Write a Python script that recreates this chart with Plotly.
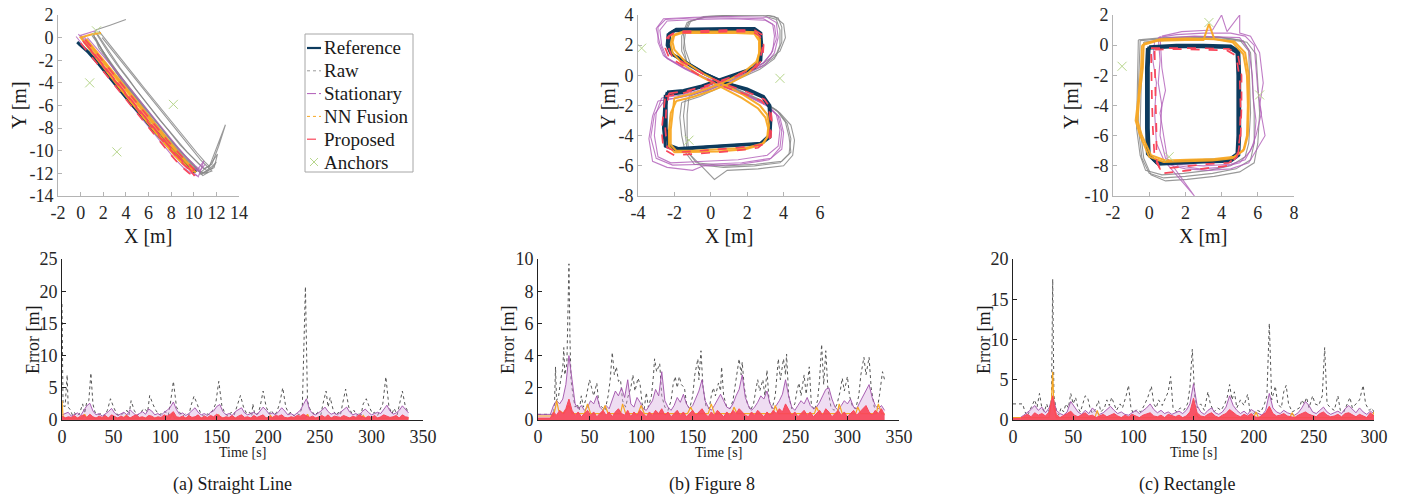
import plotly.graph_objects as go
import numpy as np

# ------------------------------------------------------------------ data
# (a) Straight line trajectories  (laps: (x list, y list))
REF_A = [([-0.3, 0.6, 1.4, 2.2, 3.0, 3.8, 4.6, 5.5, 6.3, 7.2, 8.1, 9.2, 10.2, 9.3, 8.2, 7.3, 6.4, 5.6, 4.7, 3.9, 3.1, 2.3, 1.5, 0.7, -0.2, 0.7, 1.5, 2.3, 3.1, 3.9, 4.7, 5.6, 6.4, 7.3, 8.2, 9.3, 10.1],
          [-0.4, -1.2, -2.1, -3.1, -4.0, -5.0, -6.0, -7.0, -8.0, -9.0, -10.0, -11.0, -11.9, -11.1, -10.1, -9.1, -8.1, -7.1, -6.1, -5.1, -4.1, -3.1, -2.2, -1.3, -0.5, -1.3, -2.2, -3.2, -4.1, -5.1, -6.1, -7.0, -8.0, -9.0, -10.0, -11.0, -11.9])]
RAW_A = [([1.3, 1.9, 2.5, 3.2, 3.9, 4.7, 5.5, 6.2, 7.0, 7.8, 8.6, 9.4, 10.2, 10.9, 11.6, 12.2, 12.8, 11.9, 11.3, 10.7],
          [0.5, -0.5, -1.4, -2.4, -3.3, -4.3, -5.3, -6.3, -7.3, -8.2, -9.2, -10.1, -10.9, -11.6, -11.2, -9.6, -7.7, -10.1, -11.6, -12.1]),
         ([10.7, 10.0, 9.2, 8.4, 7.6, 6.8, 6.0, 5.2, 4.4, 3.6, 2.9, 2.2, 1.6, 1.1, 1.4, 2.6, 4.0],
          [-12.1, -11.2, -10.4, -9.5, -8.6, -7.6, -6.6, -5.7, -4.7, -3.7, -2.7, -1.6, -0.6, 0.3, 0.7, 1.1, 1.6]),
         ([1.5, 2.1, 2.8, 3.5, 4.2, 4.9, 5.7, 6.5, 7.3, 8.0, 8.8, 9.7, 10.5, 11.2, 11.8, 12.1, 11.4, 10.6, 9.8, 9.0, 8.2, 7.4, 6.6, 5.8, 5.0, 4.2, 3.4, 2.6, 1.9, 1.3],
          [0.3, -0.6, -1.7, -2.7, -3.6, -4.6, -5.6, -6.6, -7.6, -8.5, -9.5, -10.4, -11.2, -11.8, -11.5, -10.3, -11.3, -11.9, -11.1, -10.2, -9.3, -8.3, -7.3, -6.3, -5.3, -4.3, -3.3, -2.2, -1.1, 0.0]),
         ([1.0, 1.7, 2.3, 3.0, 3.8, 4.5, 5.3, 6.0, 6.8, 7.6, 8.4, 9.1, 9.9, 10.6, 11.3, 10.8, 10.1, 9.3, 8.5, 7.7, 6.9, 6.1, 5.3, 4.5, 3.7, 3.0, 2.3, 1.6, 1.1],
          [0.2, -0.8, -1.8, -2.8, -3.8, -4.8, -5.8, -6.8, -7.8, -8.8, -9.7, -10.6, -11.3, -11.9, -11.9, -12.2, -11.5, -10.7, -9.8, -8.9, -7.9, -6.9, -5.9, -4.9, -3.9, -2.9, -1.9, -0.9, 0.4]),
         ([1.9, 2.7, 3.5, 4.3, 5.1, 5.9, 6.7, 7.5, 8.3, 9.1, 9.9, 10.6, 11.2, 11.6, 11.0, 10.4, 9.6, 8.8, 8.0, 7.2, 6.4, 5.6, 4.8, 4.0, 3.3, 2.6, 1.9],
          [0.0, -1.0, -2.0, -3.0, -4.0, -5.0, -6.0, -7.0, -8.0, -9.0, -10.0, -10.8, -11.4, -11.8, -12.0, -11.8, -10.9, -10.0, -9.1, -8.1, -7.1, -6.1, -5.1, -4.1, -3.1, -2.1, -1.1]),
         ([1.6, 2.3, 3.1, 3.9, 4.7, 5.5, 6.3, 7.1, 7.9, 8.7, 9.5, 10.3, 11.0, 11.6, 12.0, 11.2, 10.5],
          [0.6, -0.3, -1.3, -2.3, -3.3, -4.3, -5.3, -6.3, -7.3, -8.3, -9.3, -10.2, -11.0, -11.6, -11.0, -11.8, -12.1])]
STA_A = [([-0.2, 0.5, 1.2, 2.0, 2.8, 3.6, 4.4, 5.2, 6.0, 6.8, 7.6, 8.4, 9.2, 9.9, 10.4, 10.9, 10.3, 9.6, 8.8, 8.0, 7.2, 6.4, 5.6, 4.8, 4.0, 3.2, 2.4, 1.6, 0.8, 0.0, 1.3],
          [0.3, -0.5, -1.5, -2.5, -3.5, -4.6, -5.6, -6.6, -7.6, -8.6, -9.6, -10.5, -11.3, -11.9, -12.3, -10.9, -11.7, -11.4, -10.5, -9.6, -8.6, -7.6, -6.6, -5.6, -4.6, -3.6, -2.6, -1.6, -0.6, 0.2, 0.6]),
         ([0.1, 0.9, 1.7, 2.5, 3.3, 4.1, 4.9, 5.7, 6.6, 7.4, 8.2, 9.0, 9.8, 10.5, 9.9, 9.1, 8.3, 7.5, 6.7, 5.9, 5.1, 4.3, 3.5, 2.7, 1.9, 1.1, 0.3],
          [-0.1, -1.0, -2.0, -3.1, -4.1, -5.1, -6.1, -7.2, -8.2, -9.2, -10.1, -11.0, -11.7, -11.8, -11.5, -10.7, -9.8, -8.8, -7.8, -6.8, -5.8, -4.8, -3.8, -2.8, -1.8, -0.8, 0.1]),
         ([-0.4, 0.3, 1.1, 1.9, 2.7, 3.5, 4.3, 5.1, 5.9, 6.7, 7.5, 8.3, 9.1, 9.8, 10.3],
          [0.1, -0.8, -1.8, -2.8, -3.8, -4.8, -5.8, -6.8, -7.8, -8.8, -9.8, -10.7, -11.5, -12.0, -12.2]),
         ([0.6, 1.4, 2.2, 3.0, 3.8, 4.6, 5.4, 6.2, 7.0, 7.8, 8.6, 9.4, 10.1, 10.6, 11.0],
          [0.0, -0.9, -1.8, -2.8, -3.8, -4.8, -5.8, -6.8, -7.8, -8.8, -9.7, -10.6, -11.3, -11.7, -11.2])]
NN_A = [([0.1, 0.8, 1.6, 2.4, 3.2, 4.0, 4.8, 5.6, 6.4, 7.2, 8.0, 8.8, 9.6, 10.2, 9.5, 8.7, 7.9, 7.1, 6.3, 5.5, 4.7, 3.9, 3.1, 2.3, 1.5, 0.7, 0.0, 1.0, 1.8],
         [-0.1, -1.0, -2.0, -3.0, -4.1, -5.1, -6.1, -7.1, -8.1, -9.1, -10.0, -10.9, -11.6, -11.9, -11.5, -10.6, -9.7, -8.8, -7.8, -6.8, -5.8, -4.8, -3.8, -2.8, -1.8, -0.8, 0.0, 0.3, 0.4]),
        ([0.3, 1.1, 1.9, 2.7, 3.4, 4.3, 5.1, 5.9, 6.7, 7.5, 8.3, 9.1, 9.9, 10.0, 9.2, 8.4, 7.6, 6.8, 6.0, 5.2, 4.4, 3.6, 2.8, 2.0, 1.2, 0.4],
         [-0.4, -1.4, -2.4, -3.5, -4.4, -5.5, -6.5, -7.5, -8.5, -9.5, -10.4, -11.2, -11.8, -11.7, -10.9, -10.0, -9.1, -8.1, -7.1, -6.1, -5.1, -4.1, -3.1, -2.1, -1.1, -0.2]),
        ([0.5, 1.3, 2.1, 2.9, 3.7, 4.5, 5.3, 6.1, 6.9, 7.7, 8.5, 9.3, 10.0],
         [-0.1, -1.1, -2.1, -3.1, -4.1, -5.1, -6.1, -7.1, -8.1, -9.1, -10.0, -10.9, -11.6])]
PRO_A = [([0.2, 1.0, 1.8, 2.6, 3.4, 4.2, 5.0, 5.8, 6.6, 7.4, 8.2, 9.0, 9.7, 10.2, 9.6, 8.8, 8.0, 7.2, 6.4, 5.6, 4.8, 4.0, 3.2, 2.4, 1.6, 0.8, 0.1],
          [-0.3, -1.2, -2.2, -3.2, -4.2, -5.2, -6.2, -7.2, -8.2, -9.2, -10.1, -11.0, -11.7, -12.4, -11.6, -10.7, -9.8, -8.9, -7.9, -6.9, -5.9, -4.9, -3.9, -2.9, -1.9, -0.9, -0.1]),
         ([0.4, 1.2, 2.0, 2.8, 3.6, 4.4, 5.2, 6.0, 6.8, 7.6, 8.4, 9.2, 10.0, 9.9, 9.0, 8.2, 7.4, 6.6, 5.8, 5.0, 4.2, 3.4, 2.6, 1.8, 1.0, 0.3],
          [-0.2, -1.1, -2.1, -3.1, -4.1, -5.0, -6.0, -7.0, -8.0, -9.0, -9.9, -10.8, -11.6, -12.0, -11.1, -10.2, -9.3, -8.3, -7.3, -6.3, -5.3, -4.3, -3.3, -2.3, -1.3, -0.4]),
         ([0.0, 0.8, 1.6, 2.4, 3.2, 4.0, 4.8, 5.6, 6.4, 7.2, 8.0, 8.8, 9.6, 10.3],
          [-0.5, -1.5, -2.5, -3.5, -4.5, -5.5, -6.5, -7.5, -8.5, -9.5, -10.4, -11.3, -12.0, -12.3])]
ANC_A_X = [0.8, 8.2, 3.2, 1.4]
ANC_A_Y = [-4.0, -5.9, -10.1, 0.6]

# (b) Figure 8 trajectories
REF_B = [([-2.4, -1.5, -0.5, 0.5, 1.5, 2.4, 2.75, 2.8, 2.75, 2.4, 1.0, -0.5, -1.9, -2.25, -2.3, -2.1, -1.3, -0.3, 0.8, 2.0, 2.9, 3.25, 3.3, 3.25, 2.8, 1.5, 0.0, -1.8, -2.35, -2.45, -2.45, -2.4],
          [-1.1, -1.0, -0.7, -0.3, 0.1, 0.5, 1.0, 2.0, 2.8, 3.1, 3.1, 3.05, 3.05, 2.8, 2.0, 1.4, 0.8, 0.1, -0.5, -0.9, -1.4, -2.0, -3.0, -4.1, -4.5, -4.6, -4.7, -4.85, -4.6, -3.5, -2.0, -1.1]),
         ([-2.5, -1.6, -0.6, 0.4, 1.4, 2.3, 2.7, 2.75, 2.7, 2.3, 0.9, -0.6, -2.0, -2.35, -2.4, -2.2, -1.4, -0.4, 0.7, 1.9, 2.85, 3.2, 3.25, 3.2, 2.7, 1.4, -0.1, -1.9, -2.5, -2.6, -2.55, -2.5],
          [-1.3, -1.15, -0.8, -0.35, 0.05, 0.45, 1.0, 2.0, 2.75, 3.0, 3.0, 2.95, 2.95, 2.7, 2.0, 1.45, 0.85, 0.15, -0.45, -0.95, -1.45, -2.1, -3.0, -4.0, -4.55, -4.65, -4.75, -4.95, -4.7, -3.5, -2.2, -1.3])]
RAW_B = [([-1.4, -0.5, 0.6, 1.7, 2.8, 3.6, 3.9, 3.9, 3.7, 3.0, 1.5, -0.2, -1.1, -1.4, -1.5, -1.3, -0.5, 0.5, 1.6, 2.7, 3.6, 4.1, 4.3, 4.4, 3.9, 2.5, 0.8, -0.8, -1.3, -1.4, -1.5, -1.4],
          [-1.6, -1.2, -0.6, 0.0, 0.6, 1.3, 2.2, 3.2, 3.8, 4.0, 4.0, 3.9, 3.6, 2.8, 1.8, 0.8, 0.2, -0.4, -1.0, -1.6, -2.3, -3.1, -4.1, -5.1, -5.7, -5.9, -6.0, -5.8, -5.0, -3.9, -2.7, -1.6]),
         ([-1.2, -0.3, 0.8, 1.9, 3.0, 3.8, 4.1, 4.0, 3.5, 2.8, 1.3, -0.4, -1.3, -1.6, -1.6, -1.2, -0.3, 0.7, 1.8, 2.9, 3.8, 4.4, 4.6, 4.5, 4.0, 2.6, 0.9, 0.2, -0.6, -1.2, -1.3, -1.3, -1.2],
          [-1.4, -1.0, -0.4, 0.2, 0.9, 1.6, 2.5, 3.4, 3.9, 4.05, 4.0, 3.9, 3.5, 2.6, 1.6, 0.6, 0.0, -0.6, -1.2, -1.8, -2.5, -3.3, -4.3, -5.3, -6.0, -6.2, -6.3, -6.9, -5.9, -5.2, -4.0, -2.6, -1.4]),
         ([-1.6, -0.6, 0.5, 1.6, 2.7, 3.5, 3.8, 3.8, 3.6, 2.9, 1.4, -0.3, -1.2, -1.5, -1.4, -1.1, -0.4, 0.6, 1.7, 2.8, 3.7, 4.2, 4.4, 4.3, 3.8, 2.4, 0.7, -0.9, -1.4, -1.6, -1.7, -1.6],
          [-1.8, -1.4, -0.8, -0.2, 0.4, 1.1, 2.0, 3.0, 3.7, 3.95, 3.95, 3.85, 3.55, 2.7, 1.7, 0.7, 0.1, -0.5, -1.1, -1.7, -2.4, -3.2, -4.2, -5.2, -5.8, -6.0, -6.1, -5.9, -5.1, -4.0, -2.8, -1.8])]
STA_B = [([-2.7, -1.6, -0.4, 0.7, 1.8, 2.9, 3.4, 3.5, 3.4, 2.9, 1.0, -1.0, -2.5, -2.9, -2.9, -2.6, -1.6, -0.4, 0.8, 2.0, 3.0, 3.6, 3.8, 3.7, 3.1, 1.5, -0.3, -2.2, -2.9, -3.1, -3.0, -2.7],
          [-1.5, -1.3, -0.9, -0.4, 0.2, 0.8, 1.6, 2.6, 3.4, 3.75, 3.8, 3.8, 3.7, 3.2, 2.2, 1.3, 0.6, -0.1, -0.7, -1.3, -1.9, -2.6, -3.6, -4.7, -5.3, -5.6, -5.7, -5.8, -5.4, -4.0, -2.5, -1.5]),
         ([-2.9, -1.8, -0.6, 0.5, 1.6, 2.7, 3.3, 3.6, 3.5, 3.0, 1.2, -0.8, -2.4, -2.8, -2.7, -2.4, -1.4, -0.2, 1.0, 2.2, 3.2, 3.8, 4.0, 3.9, 3.2, 1.6, -0.4, -1.0, -2.4, -3.2, -3.4, -3.2, -2.9],
          [-1.7, -1.5, -1.1, -0.6, 0.0, 0.6, 1.4, 2.4, 3.3, 3.65, 3.75, 3.7, 3.6, 3.0, 2.0, 1.1, 0.4, -0.3, -0.9, -1.5, -2.1, -2.8, -3.8, -4.9, -5.6, -5.9, -6.0, -6.3, -6.1, -5.7, -4.2, -2.7, -1.7]),
         ([-2.5, -1.4, -0.2, 0.9, 2.0, 3.0, 3.5, 3.7, 3.6, 3.1, 1.1, -0.9, -2.6, -3.0, -2.8, -2.5, -1.5, -0.3, 0.9, 2.1, 3.1, 3.7, 3.9, 3.8, 3.3, 1.7, -0.2, -2.1, -3.0, -3.3, -3.1, -2.5],
          [-1.6, -1.4, -1.0, -0.5, 0.1, 0.7, 1.5, 2.5, 3.5, 3.85, 3.9, 3.85, 3.75, 3.1, 2.1, 1.2, 0.5, -0.2, -0.8, -1.4, -2.0, -2.7, -3.7, -4.8, -5.5, -5.8, -5.9, -5.95, -5.5, -4.1, -2.6, -1.6])]
NN_B = [([-2.0, -1.0, 0.0, 1.0, 1.9, 2.5, 2.7, 2.7, 2.5, 1.5, 0.0, -1.5, -2.0, -2.1, -2.0, -1.4, -0.4, 0.7, 1.8, 2.7, 3.1, 3.2, 3.15, 2.9, 2.0, 0.5, -1.0, -1.9, -2.2, -2.2, -2.1, -2.0],
         [-1.5, -1.2, -0.8, -0.3, 0.3, 0.9, 1.6, 2.4, 2.85, 2.9, 2.9, 2.9, 2.7, 2.2, 1.7, 0.9, 0.1, -0.6, -1.3, -2.0, -2.6, -3.3, -4.0, -4.5, -4.8, -4.9, -5.0, -5.0, -4.6, -3.6, -2.4, -1.5]),
        ([-1.9, -0.9, 0.1, 1.1, 2.0, 2.55, 2.65, 2.65, 2.4, 1.4, -0.1, -1.6, -2.1, -2.2, -2.1, -1.5, -0.5, 0.6, 1.7, 2.6, 3.0, 3.15, 3.1, 2.8, 1.9, 0.4, -1.1, -2.0, -2.3, -2.3, -2.2, -1.9],
         [-1.7, -1.4, -1.0, -0.5, 0.1, 0.7, 1.5, 2.3, 2.75, 2.8, 2.8, 2.8, 2.6, 2.1, 1.5, 0.7, -0.1, -0.8, -1.5, -2.2, -2.8, -3.5, -4.1, -4.6, -4.9, -5.05, -5.1, -5.1, -4.7, -3.7, -2.5, -1.7])]
PRO_B = [([-2.3, -1.4, -0.4, 0.6, 1.6, 2.5, 2.85, 2.9, 2.8, 2.4, 1.0, -0.5, -1.9, -2.3, -2.35, -2.15, -1.3, -0.3, 0.8, 2.0, 2.95, 3.3, 3.35, 3.3, 2.8, 1.5, 0.0, -1.8, -2.4, -2.5, -2.45, -2.3],
          [-1.2, -1.05, -0.75, -0.35, 0.1, 0.55, 1.1, 2.0, 2.7, 3.0, 3.0, 2.95, 2.9, 2.6, 1.9, 1.3, 0.7, 0.0, -0.6, -1.1, -1.6, -2.2, -3.1, -4.1, -4.6, -4.8, -4.95, -5.1, -4.8, -3.6, -2.2, -1.2]),
         ([-2.5, -1.6, -0.6, 0.4, 1.4, 2.3, 2.7, 2.85, 2.7, 2.3, 0.9, -0.6, -2.0, -2.4, -2.5, -2.3, -1.5, -0.5, 0.6, 1.8, 2.8, 3.2, 3.3, 3.2, 2.6, 1.3, -0.2, -2.0, -2.6, -2.7, -2.6, -2.5],
          [-1.4, -1.2, -0.9, -0.5, -0.05, 0.4, 1.0, 1.9, 2.6, 2.9, 2.9, 2.85, 2.8, 2.5, 1.8, 1.2, 0.6, -0.1, -0.7, -1.2, -1.7, -2.3, -3.2, -4.2, -4.8, -5.0, -5.15, -5.3, -4.9, -3.7, -2.4, -1.4])]
ANC_B_X = [-3.8, 3.8, -1.2]
ANC_B_Y = [1.8, -0.2, -4.3]

# (c) Rectangle trajectories
REF_C = [([0.0, 1.5, 3.0, 4.5, 4.95, 5.0, 5.0, 5.0, 4.95, 4.5, 3.0, 1.5, 0.5, 0.0, -0.05, -0.05, -0.05, 0.0],
          [-0.1, 0.0, 0.0, -0.05, -0.4, -2.0, -4.0, -6.0, -7.3, -7.7, -7.75, -7.85, -7.9, -7.3, -5.5, -3.5, -1.5, -0.1]),
         ([-0.1, 1.4, 2.9, 4.4, 4.85, 4.9, 4.9, 4.9, 4.85, 4.4, 2.9, 1.4, 0.4, -0.1, -0.15, -0.15, -0.15, -0.1],
          [-0.2, -0.1, -0.1, -0.15, -0.5, -2.0, -4.0, -6.0, -7.2, -7.6, -7.65, -7.75, -7.8, -7.2, -5.5, -3.5, -1.5, -0.2])]
RAW_C = [([-0.5, 1.0, 2.5, 4.0, 5.2, 5.6, 5.7, 5.8, 5.8, 5.6, 4.8, 3.5, 2.0, 0.8, 0.0, -0.4, -0.6, -0.6, -0.5],
          [0.3, 0.45, 0.5, 0.5, 0.3, -0.5, -2.5, -4.5, -6.5, -7.6, -8.2, -8.5, -8.7, -8.8, -8.5, -7.5, -5.5, -3.0, 0.3]),
         ([-0.3, 1.2, 2.7, 4.2, 5.4, 5.9, 6.0, 6.1, 6.0, 5.8, 5.0, 3.6, 2.1, 0.9, 0.1, -0.3, -0.5, -0.45, -0.3],
          [0.2, 0.35, 0.4, 0.4, 0.2, -0.6, -2.5, -4.5, -6.5, -7.8, -8.4, -8.7, -8.9, -9.0, -8.6, -7.5, -5.5, -3.0, 0.2]),
         ([-0.6, 0.8, 2.3, 3.8, 5.0, 5.5, 5.55, 5.6, 5.5, 5.3, 4.5, 3.3, 1.9, 0.7, -0.2, -0.5, -0.7, -0.65, -0.6],
          [0.35, 0.5, 0.55, 0.55, 0.35, -0.4, -2.5, -4.5, -6.5, -7.4, -8.0, -8.3, -8.5, -8.6, -8.3, -7.3, -5.5, -3.0, 0.35])]
STA_C = [([0.5, 1.5, 3.0, 4.5, 5.3, 5.8, 5.9, 6.0, 6.2, 5.9, 5.6, 5.0, 4.0, 2.8, 1.6, 0.9, 0.6, 0.7, 0.5, 0.6, 0.5],
          [0.5, 0.7, 0.8, 0.8, 0.6, 0.0, -1.5, -3.0, -4.5, -6.0, -7.0, -7.8, -8.1, -8.2, -8.0, -7.5, -6.0, -4.0, -2.5, -1.0, 0.5]),
         ([0.7, 1.8, 3.5, 4.0, 4.3, 5.0, 5.0, 5.6, 6.1, 6.3, 6.1, 6.4, 6.0, 5.5, 4.5, 3.3, 2.0, 1.0, 1.5, 2.0, 2.5, 1.0, 0.8, 0.6, 0.9, 0.7, 0.6],
          [0.6, 0.9, 1.0, 2.0, 0.9, 2.0, 0.8, 0.6, -0.5, -2.5, -4.0, -6.0, -6.8, -7.8, -8.2, -8.3, -8.2, -7.9, -8.6, -9.3, -10.0, -7.5, -6.0, -4.5, -3.0, -1.5, 0.6]),
         ([0.3, 1.2, 2.5, 3.8, 5.0, 5.5, 5.7, 5.75, 5.9, 5.8, 5.3, 4.5, 3.0, 1.5, 0.8, 0.4, 0.3, 0.4, 0.2, 0.3],
          [0.3, 0.5, 0.6, 0.55, 0.5, -0.3, -2.0, -3.5, -5.0, -6.5, -7.6, -7.9, -8.0, -7.9, -7.6, -6.5, -4.5, -2.5, -1.0, 0.3])]
NN_C = [([-0.4, 0.5, 2.0, 3.0, 3.3, 3.6, 4.6, 5.2, 5.4, 5.45, 5.4, 5.2, 4.6, 3.5, 2.0, 0.8, 0.0, -0.5, -0.75, -0.6, -0.45, -0.4],
         [0.0, 0.3, 0.35, 0.35, 1.4, 0.4, 0.2, -0.6, -2.0, -4.0, -6.0, -7.0, -7.5, -7.65, -7.7, -7.75, -7.4, -6.0, -5.0, -3.5, -1.5, 0.0]),
        ([-0.3, 0.6, 2.1, 3.6, 4.7, 5.3, 5.5, 5.5, 5.45, 5.25, 4.7, 3.6, 2.1, 0.9, 0.1, -0.4, -0.65, -0.55, -0.35, -0.3],
         [0.1, 0.4, 0.45, 0.4, 0.25, -0.5, -2.0, -4.0, -6.0, -6.9, -7.4, -7.55, -7.6, -7.65, -7.3, -6.0, -5.0, -3.5, -1.5, 0.1])]
PRO_C = [([0.1, 1.5, 3.0, 4.4, 4.9, 5.1, 5.1, 5.05, 4.9, 4.4, 3.0, 1.5, 0.6, 0.3, 0.2, 0.15, 0.1, 0.1],
          [-0.2, -0.2, -0.2, -0.25, -0.6, -2.0, -4.0, -6.0, -7.3, -7.8, -7.9, -8.1, -8.2, -7.5, -5.5, -3.5, -1.5, -0.2]),
         ([0.3, 1.6, 3.1, 4.3, 4.8, 5.0, 5.05, 5.0, 4.85, 4.3, 2.9, 1.4, 0.7, 0.4, 0.4, 0.35, 0.3, 0.3],
          [-0.3, -0.25, -0.3, -0.35, -0.7, -2.2, -4.2, -6.2, -7.4, -8.0, -8.2, -8.4, -8.5, -7.6, -5.6, -3.6, -1.6, -0.3])]
ANC_C_X = [-1.5, 6.1, 1.1, 3.3]
ANC_C_Y = [-1.4, -3.3, -7.4, 1.5]

# Error time series ---------------------------------------------------
DT = 3  # sampling step [s] of the evenly sampled error series
RAW_ERR_A = [(0,18.0),(1,2.2),(3,2.1),(5,7.0),(6,2.0),(8,1.6),(10,0.8),(12,1.2),(14,0.6),(17,1.0),(20,2.5),(22,1.0),(24,2.8),(26,3.0),(28,7.3),(30,2.5),(32,1.2),(35,0.8),(38,1.0),(41,0.6),(44,1.5),(47,3.3),(50,2.0),(53,1.0),(56,0.6),(60,1.2),(63,1.5),(65,0.8),(67,3.0),(70,1.5),(73,0.7),(76,1.2),(80,1.8),(83,1.2),(85,3.8),(88,2.5),(91,1.5),(94,0.8),(97,1.0),(100,1.3),(103,0.7),(105,2.5),(108,6.0),(111,2.0),(114,1.2),(117,0.6),(120,1.0),(123,0.7),(125,2.2),(128,3.7),(131,2.5),(134,1.2),(137,0.6),(140,1.0),(143,0.8),(146,1.5),(149,2.5),(152,6.0),(155,2.2),(158,1.0),(161,0.6),(164,1.2),(167,0.8),(170,2.5),(173,3.8),(176,2.0),(179,1.0),(182,1.2),(184,0.6),(185,2.5),(187,0.8),(190,1.0),(192,2.0),(195,4.5),(198,2.0),(201,1.0),(203,1.5),(206,0.7),(208,1.2),(211,2.5),(214,5.0),(217,2.0),(220,1.0),(222,1.2),(225,0.6),(228,1.0),(230,0.8),(233,2.0),(236,20.7),(238,3.0),(240,1.8),(242,1.5),(245,0.7),(248,1.2),(251,0.8),(253,2.5),(256,4.5),(258,2.0),(260,3.5),(263,1.5),(266,0.7),(268,1.2),(270,0.8),(272,2.5),(275,4.8),(278,2.0),(281,1.0),(283,1.5),(286,0.7),(288,1.2),(290,0.8),(292,2.5),(295,3.3),(298,2.0),(301,1.0),(303,1.2),(306,0.7),(308,1.5),(311,2.5),(314,6.7),(317,2.0),(320,1.0),(322,1.8),(325,0.8),(327,2.5),(330,4.5),(333,2.0),(336,1.2)]
STA_ERR_A = [0.8, 1.0, 1.2, 0.6, 0.9, 1.1, 0.7, 1.5, 2.2, 2.6,
             1.4, 0.8, 1.0, 0.6, 0.9, 1.3, 1.8, 1.1, 0.7, 0.9,
             1.2, 0.8, 1.6, 1.1, 0.7, 1.0, 1.3, 0.9, 1.7, 1.4,
             0.8, 1.0, 0.7, 1.2, 1.5, 2.0, 2.8, 1.6, 0.9, 1.1,
             0.7, 1.0, 1.5, 1.9, 1.2, 0.8, 1.0, 0.7, 1.2, 1.4,
             2.1, 2.4, 1.3, 0.8, 1.0, 0.7, 1.3, 1.6, 1.9, 1.1,
             0.8, 1.0, 1.2, 0.8, 1.4, 2.0, 1.5, 0.9, 1.1, 0.8,
             1.3, 1.9, 1.4, 0.8, 1.0, 0.7, 1.1, 1.5, 2.4, 3.3,
             1.6, 1.0, 0.8, 1.1, 1.5, 2.0, 1.3, 0.9, 1.1, 0.8,
             1.2, 1.6, 2.0, 1.2, 0.8, 1.0, 0.7, 1.3, 1.7, 1.2,
             0.8, 1.0, 1.2, 1.0, 1.6, 2.3, 1.4, 0.9, 1.1, 1.5,
             2.2, 1.6, 1.1]
NN_ERR_A = [(0,3.0),(1,0.6),(3,0.3),(20,0.3),(22,0.9),(24,0.3),(60,0.3),(62,0.7),(64,0.3),(105,0.3),(107,1.0),(109,0.3),(150,0.3),(152,0.8),(154,0.3),(200,0.3),(202,0.7),(204,0.3),(236,0.3),(238,0.9),(240,0.3),(290,0.3),(292,0.7),(294,0.3),(330,0.3),(336,0.3)]
PRO_ERR_A = [0.6, 0.3, 0.5, 0.4, 0.7, 0.3, 0.6, 0.8, 0.4, 0.9,
             0.5, 0.3, 0.6, 0.4, 0.7, 0.3, 0.8, 0.5, 0.3, 0.6,
             0.4, 0.7, 0.3, 0.6, 0.8, 0.4, 0.5, 0.3, 0.7, 0.6,
             0.3, 0.5, 0.4, 0.8, 0.6, 0.9, 1.3, 0.5, 0.4, 0.6,
             0.3, 0.7, 0.4, 0.5, 0.8, 0.3, 0.6, 0.4, 0.7, 0.5,
             0.9, 0.6, 0.3, 0.5, 0.4, 0.7, 0.3, 0.6, 0.8, 0.4,
             0.5, 0.3, 0.7, 0.4, 0.6, 0.8, 0.3, 0.5, 0.4, 0.7,
             0.6, 0.8, 0.4, 0.3, 0.5, 0.4, 0.7, 0.6, 0.9, 0.7,
             0.4, 0.6, 0.3, 0.5, 0.7, 0.4, 0.8, 0.3, 0.6, 0.5,
             0.4, 0.7, 0.5, 0.3, 0.6, 0.4, 0.8, 0.5, 0.3, 0.6,
             0.4, 0.7, 0.3, 0.5, 0.8, 0.6, 0.4, 0.5, 0.7, 0.3,
             0.8, 0.5, 0.4]

RAW_ERR_B = [(0,0.35),(15,0.35),(16,1.0),(17,3.3),(18,1.2),(20,1.5),(22,2.5),(24,3.2),(25,4.5),(26,2.8),(28,3.5),(30,9.7),(31,5.0),(32,2.5),(34,1.5),(36,0.8),(38,1.0),(40,0.6),(42,1.5),(44,0.8),(46,1.2),(48,1.8),(50,2.5),(52,2.0),(54,1.5),(57,2.3),(59,1.0),(62,0.8),(65,0.6),(68,1.5),(70,2.5),(72,4.2),(74,2.8),(76,3.3),(78,2.4),(80,2.5),(82,1.2),(85,0.8),(87,1.4),(90,2.0),(92,2.8),(94,1.8),(97,2.6),(99,2.2),(101,1.0),(103,0.7),(105,1.7),(107,0.8),(110,1.5),(112,2.8),(113,3.8),(115,3.0),(118,3.5),(120,1.5),(123,0.8),(126,0.6),(129,1.2),(131,2.2),(133,2.7),(135,2.0),(137,2.7),(139,2.2),(142,2.0),(144,1.0),(147,0.7),(150,1.5),(152,2.8),(155,3.8),(156,2.5),(158,4.3),(160,2.0),(163,0.8),(166,0.7),(168,1.5),(170,2.0),(172,1.5),(175,2.3),(177,1.8),(178,3.3),(180,1.5),(183,0.8),(186,0.7),(189,1.2),(192,2.5),(195,3.8),(197,2.8),(198,3.6),(200,2.0),(203,1.0),(206,0.6),(209,1.0),(211,1.8),(213,2.5),(215,1.8),(218,2.5),(220,1.5),(222,3.1),(224,1.2),(227,0.7),(230,1.5),(232,2.8),(233,3.8),(235,2.5),(238,3.8),(240,2.8),(241,4.1),(243,1.5),(246,0.7),(249,1.0),(251,1.8),(253,2.3),(255,1.5),(258,2.8),(260,1.6),(263,3.3),(265,1.0),(268,0.6),(271,1.2),(273,2.5),(275,4.7),(277,2.2),(279,4.3),(281,2.0),(284,0.8),(287,0.6),(290,1.0),(293,1.8),(295,2.6),(297,1.8),(300,2.7),(302,1.5),(305,0.8),(308,0.7),(311,1.5),(313,2.8),(316,3.9),(318,2.8),(321,3.9),(323,2.0),(326,0.8),(329,0.7),(331,1.5),(334,3.0),(336,2.5)]
STA_ERR_B = [0.35, 0.35, 0.35, 0.35, 0.35, 0.9, 1.2, 1.0, 1.3, 2.2,
             4.0, 2.5, 1.0, 0.7, 0.9, 0.6, 0.8, 1.2, 1.0, 1.5,
             0.8, 0.6, 0.9, 0.7, 1.2, 1.8, 1.5, 2.0, 1.4, 2.5,
             1.0, 0.8, 1.4, 1.1, 0.7, 0.6, 0.9, 1.2, 1.9, 1.5,
             3.0, 1.2, 0.8, 0.6, 0.9, 1.4, 1.1, 1.6, 1.0, 0.7,
             0.9, 1.3, 1.8, 2.5, 1.2, 0.8, 0.6, 0.9, 1.3, 1.6,
             1.2, 0.8, 0.7, 1.0, 1.5, 1.9, 2.8, 1.4, 0.9, 0.6,
             0.8, 1.1, 1.5, 1.3, 1.8, 1.0, 0.7, 0.9, 1.2, 1.6,
             2.5, 1.5, 0.8, 0.6, 0.9, 1.2, 1.0, 1.4, 0.9, 0.7,
             0.8, 1.1, 1.5, 1.9, 2.0, 1.3, 0.8, 0.6, 0.9, 1.2,
             1.0, 1.3, 0.8, 0.7, 1.1, 1.5, 1.8, 2.2, 1.4, 0.9,
             0.7, 0.9, 0.6]
NN_ERR_B = [(0,0.25),(15,0.25),(17,0.8),(18,1.2),(20,0.6),(25,0.4),(30,0.9),(33,0.4),(45,0.4),(48,1.0),(51,0.4),(62,0.4),(65,0.9),(68,0.4),(80,0.4),(82,1.0),(85,0.4),(97,0.4),(100,0.9),(103,0.4),(145,0.4),(148,0.8),(151,0.4),(165,0.4),(168,1.0),(171,0.4),(188,0.4),(190,0.8),(193,0.4),(228,0.4),(230,0.9),(233,0.4),(268,0.4),(270,0.8),(273,0.4),(290,0.4),(292,1.0),(295,0.4),(308,0.4),(310,0.8),(313,0.4),(328,0.4),(330,1.0),(333,0.4),(336,0.4)]
PRO_ERR_B = [0.12, 0.12, 0.12, 0.12, 0.12, 0.5, 0.3, 0.6, 0.4, 0.7,
             1.3, 0.6, 0.3, 0.5, 0.2, 0.4, 0.6, 0.3, 0.5, 0.2,
             0.4, 0.6, 0.3, 0.5, 0.2, 0.5, 0.7, 0.4, 0.3, 0.6,
             0.2, 0.5, 0.3, 0.6, 0.4, 0.2, 0.5, 0.3, 0.6, 0.4,
             0.7, 0.3, 0.5, 0.2, 0.4, 0.6, 0.3, 0.5, 0.2, 0.4,
             0.6, 0.3, 0.5, 0.7, 0.4, 0.2, 0.5, 0.3, 0.6, 0.4,
             0.2, 0.5, 0.3, 0.6, 0.4, 0.7, 0.5, 0.3, 0.2, 0.5,
             0.3, 0.6, 0.4, 0.2, 0.5, 0.3, 0.6, 0.4, 0.7, 0.5,
             1.0, 0.6, 0.3, 0.5, 0.2, 0.4, 0.6, 0.3, 0.5, 0.2,
             0.4, 0.6, 0.3, 0.7, 0.5, 0.2, 0.4, 0.6, 0.3, 0.5,
             0.2, 0.4, 0.6, 0.3, 0.5, 0.7, 0.9, 0.5, 0.3, 0.6,
             0.4, 0.7, 0.3]

RAW_ERR_C = [(0,2.0),(8,2.0),(10,1.0),(12,0.5),(14,1.2),(16,1.8),(18,2.5),(20,1.6),(22,3.3),(24,1.5),(26,1.0),(28,2.0),(30,1.0),(32,2.5),(33,17.5),(34,3.0),(36,1.2),(38,0.6),(40,1.5),(42,1.0),(44,2.0),(46,1.5),(48,3.3),(50,2.0),(52,2.8),(54,1.5),(56,1.0),(58,2.0),(60,3.0),(62,2.8),(64,1.5),(66,0.8),(68,1.2),(71,2.4),(73,1.0),(76,1.5),(78,2.5),(80,1.8),(82,2.8),(84,2.0),(86,1.2),(89,2.0),(91,1.5),(94,3.0),(96,4.3),(98,1.5),(100,0.8),(103,1.3),(106,1.0),(109,1.8),(112,2.8),(115,4.2),(117,2.0),(119,1.5),(121,2.5),(124,1.8),(127,2.8),(129,3.5),(131,5.4),(133,1.5),(136,1.0),(139,1.5),(142,1.2),(145,2.0),(147,4.0),(149,8.8),(151,3.0),(153,1.5),(156,2.0),(159,1.2),(162,3.5),(164,2.0),(167,1.0),(170,1.5),(173,1.2),(176,2.0),(178,2.8),(180,4.4),(182,2.5),(184,3.5),(186,1.5),(189,2.5),(192,1.8),(195,3.2),(197,1.0),(200,0.8),(203,1.2),(206,1.0),(209,2.0),(211,3.0),(213,12.0),(215,2.5),(218,4.2),(220,2.0),(223,1.5),(225,3.5),(227,4.3),(229,2.0),(232,1.0),(235,1.2),(238,1.5),(240,2.5),(242,2.0),(244,2.8),(246,1.5),(249,3.0),(251,2.0),(254,1.8),(257,3.0),(259,9.0),(261,2.0),(264,1.5),(267,1.2),(270,3.0),(272,1.2),(275,1.0),(278,2.0),(280,2.8),(282,1.5),(285,2.0),(288,2.5),(291,4.3),(293,2.0),(296,1.2),(298,1.5),(300,1.0)]
STA_ERR_C = [0.3, 0.3, 0.3, 0.6, 0.9, 1.3, 1.8, 1.2, 1.6, 0.9,
             1.5, 3.0, 1.2, 0.8, 0.6, 1.0, 2.3, 1.6, 1.0, 0.7,
             1.2, 0.8, 1.5, 1.0, 0.7, 0.9, 1.3, 1.7, 1.2, 0.8,
             1.0, 0.7, 0.6, 0.9, 1.2, 0.8, 1.1, 1.5, 2.0, 1.3,
             0.9, 1.2, 0.8, 1.0, 0.7, 0.9, 1.1, 0.8, 1.2, 2.0,
             4.5, 1.8, 1.0, 0.7, 1.2, 1.5, 0.9, 0.7, 1.0, 1.6,
             3.0, 1.8, 1.2, 0.8, 1.1, 0.7, 1.3, 1.0, 0.8, 0.6,
             1.2, 3.3, 1.5, 1.0, 0.8, 1.2, 0.9, 0.7, 0.6, 0.9,
             1.5, 2.3, 1.8, 1.0, 0.8, 1.2, 1.6, 1.0, 0.7, 0.9,
             1.1, 0.8, 1.4, 1.8, 1.3, 0.9, 1.5, 1.0, 0.7, 1.1,
             0.8]
NN_ERR_C = [(0,0.3),(9,0.3),(12,0.3),(30,0.3),(32,2.5),(33,6.0),(34,1.5),(36,0.3),(68,0.3),(70,1.2),(72,0.3),(150,0.3),(152,0.8),(154,0.3),(200,0.3),(202,1.0),(204,0.3),(230,0.3),(232,0.9),(234,0.3),(298,0.3),(300,1.0)]
PRO_ERR_C = [0.2, 0.2, 0.2, 0.5, 0.7, 0.4, 0.9, 0.6, 0.8, 0.5,
             1.0, 3.0, 0.7, 0.3, 0.5, 0.8, 1.1, 0.6, 0.4, 0.7,
             0.9, 0.5, 0.6, 0.3, 0.5, 0.7, 0.4, 0.6, 0.8, 0.5,
             0.3, 0.6, 0.4, 0.7, 0.5, 0.3, 0.6, 0.8, 0.9, 0.5,
             0.4, 0.6, 0.3, 0.7, 0.5, 0.4, 0.6, 0.3, 0.5, 1.0,
             2.7, 0.9, 0.5, 0.4, 0.7, 0.9, 0.5, 0.3, 0.6, 0.8,
             1.3, 0.9, 0.6, 0.4, 0.7, 0.5, 0.8, 0.4, 0.3, 0.6,
             0.9, 1.7, 0.8, 0.5, 0.6, 0.8, 0.5, 0.4, 0.3, 0.6,
             0.8, 1.0, 0.7, 0.5, 0.4, 0.8, 1.0, 0.6, 0.4, 0.5,
             0.7, 0.4, 0.8, 0.9, 0.6, 0.4, 0.7, 0.5, 0.3, 0.9,
             0.5]

LEGEND_NAMES = ["Reference", "Raw", "Stationary", "NN Fusion", "Proposed", "Anchors"]
CAPTIONS = ["(a) Straight Line", "(b) Figure 8", "(c) Rectangle"]

# ------------------------------------------------------------------ style
W, H = 1401, 497
FONT = "Liberation Serif, Times New Roman, serif"
C_REF = "#0d3b5e"
C_RAW = "rgba(135,135,135,0.85)"
C_STA = "rgba(176,92,184,0.8)"
C_NN = "rgba(248,168,36,0.95)"
C_PRO = "#f9465a"
C_ANC = "#b7d68c"


def fx(p):
    return p / W


def fy(p):
    return 1 - p / H


def join(laps):
    xs, ys = [], []
    for lx, ly in laps:
        xs += list(lx) + [None]
        ys += list(ly) + [None]
    return xs, ys


fig = go.Figure()

TOP = [
    ("x", "y", REF_A, RAW_A, STA_A, NN_A, PRO_A, ANC_A_X, ANC_A_Y),
    ("x2", "y2", REF_B, RAW_B, STA_B, NN_B, PRO_B, ANC_B_X, ANC_B_Y),
    ("x3", "y3", REF_C, RAW_C, STA_C, NN_C, PRO_C, ANC_C_X, ANC_C_Y),
]
for (xa, ya, ref, raw, sta, nn, pro, ax_, ay_) in TOP:
    for laps, col, wid, dash in [(raw, C_RAW, 1.1, "solid"), (sta, C_STA, 1.1, "solid"),
                                 (ref, C_REF, 3.0, "solid"), (nn, C_NN, 2.0, "solid"),
                                 (pro, C_PRO, 1.7, "dash")]:
        xs, ys = join(laps)
        fig.add_trace(go.Scatter(x=xs, y=ys, xaxis=xa, yaxis=ya, mode="lines",
                                 line=dict(color=col, width=wid, dash=dash),
                                 showlegend=False, hoverinfo="skip"))
    fig.add_trace(go.Scatter(x=ax_, y=ay_, xaxis=xa, yaxis=ya, mode="markers",
                             marker=dict(symbol="x-thin", size=9, line=dict(color=C_ANC, width=1)),
                             showlegend=False, hoverinfo="skip"))

BOT = [("x4", "y4", RAW_ERR_A, STA_ERR_A, NN_ERR_A, PRO_ERR_A),
       ("x5", "y5", RAW_ERR_B, STA_ERR_B, NN_ERR_B, PRO_ERR_B),
       ("x6", "y6", RAW_ERR_C, STA_ERR_C, NN_ERR_C, PRO_ERR_C)]
for (xa, ya, raw, sta, nn, pro) in BOT:
    rt, rv = zip(*raw)
    fig.add_trace(go.Scatter(x=rt, y=rv, xaxis=xa, yaxis=ya, mode="lines",
                             line=dict(color="#555555", width=1, dash="dot"),
                             showlegend=False, hoverinfo="skip"))
    fig.add_trace(go.Scatter(x=np.arange(len(sta)) * DT, y=sta, xaxis=xa, yaxis=ya, mode="lines",
                             line=dict(color="rgba(160,80,170,0.9)", width=1),
                             fill="tozeroy", fillcolor="rgba(212,165,222,0.38)",
                             showlegend=False, hoverinfo="skip"))
    nt, nv = zip(*nn)
    fig.add_trace(go.Scatter(x=nt, y=nv, xaxis=xa, yaxis=ya, mode="lines",
                             line=dict(color="#f5a623", width=1.2),
                             showlegend=False, hoverinfo="skip"))
    fig.add_trace(go.Scatter(x=np.arange(len(pro)) * DT, y=pro, xaxis=xa, yaxis=ya, mode="lines",
                             line=dict(color="#f9465a", width=1),
                             fill="tozeroy", fillcolor="rgba(249,70,90,0.92)",
                             showlegend=False, hoverinfo="skip"))


def tick_set(lo, hi, step):
    v = list(range(lo, hi + 1, step))
    return v, [str(t) for t in v]


def axis(dom, rng, tk, anchor, top):
    tv, tt = tick_set(*tk)
    lc = "#b4b4b4" if top else "#222222"
    return dict(domain=dom, range=rng, anchor=anchor, tickvals=tv, ticktext=tt,
                showline=True, linecolor=lc, linewidth=1, ticks="inside", ticklen=4,
                tickcolor=lc, showgrid=False, zeroline=False, fixedrange=True,
                automargin=False,
                tickfont=dict(family=FONT, size=18, color="#262626"))


ytop = [fy(196), fy(15)]
ybot = [fy(420), fy(259)]
layout = dict(
    width=W, height=H, margin=dict(l=0, r=0, t=0, b=0, pad=0, autoexpand=False),
    paper_bgcolor="white", plot_bgcolor="white", showlegend=False,
    xaxis=axis([fx(58), fx(239)], [-2, 14], (-2, 14, 2), "y", True),
    yaxis=axis(ytop, [-14, 2], (-14, 2, 2), "x", True),
    xaxis2=axis([fx(638), fx(820)], [-4, 6], (-4, 6, 2), "y2", True),
    yaxis2=axis(ytop, [-8, 4], (-8, 4, 2), "x2", True),
    xaxis3=axis([fx(1113), fx(1294)], [-2, 8], (-2, 8, 2), "y3", True),
    yaxis3=axis(ytop, [-10, 2], (-10, 2, 2), "x3", True),
    xaxis4=axis([fx(62), fx(423)], [0, 350], (0, 350, 50), "y4", False),
    yaxis4=axis(ybot, [0, 25], (0, 25, 5), "x4", False),
    xaxis5=axis([fx(538), fx(899)], [0, 350], (0, 350, 50), "y5", False),
    yaxis5=axis(ybot, [0, 10], (0, 10, 2), "x5", False),
    xaxis6=axis([fx(1013), fx(1374)], [0, 300], (0, 300, 50), "y6", False),
    yaxis6=axis(ybot, [0, 20], (0, 20, 5), "x6", False),
)
fig.update_layout(**layout)

ann = []
shapes = []


def text(x, y, s, size, angle=0, anchor="center"):
    ann.append(dict(x=fx(x), y=fy(y), xref="paper", yref="paper", text=s, showarrow=False,
                    textangle=angle, xanchor=anchor, yanchor="middle",
                    font=dict(family=FONT, size=size, color="#1a1a1a")))


def seg(x0, y0, x1, y1, color, width, dash="solid"):
    shapes.append(dict(type="line", xref="paper", yref="paper",
                       x0=fx(x0), y0=fy(y0), x1=fx(x1), y1=fy(y1),
                       line=dict(color=color, width=width, dash=dash)))


# manual legend box (MATLAB-style compact legend)
shapes.append(dict(type="rect", xref="paper", yref="paper",
                   x0=fx(305), y0=fy(172), x1=fx(413), y1=fy(34),
                   line=dict(color="#a6a6a6", width=1), fillcolor="white", layer="above"))
leg_styles = [(C_REF, 2.2, "solid"), ("#9a9a9a", 1, "dot"), ("#b05cb8", 1, "dashdot"),
              ("#f8a824", 1, "dot"), (C_PRO, 1.2, "dash")]
for i, name in enumerate(LEGEND_NAMES):
    yc = 48 + i * 22.8
    if i < 5:
        col, wd, ds = leg_styles[i]
        seg(307, yc, 321, yc, col, wd, ds)
    else:
        seg(310, yc - 4, 318, yc + 4, C_ANC, 1)
        seg(310, yc + 4, 318, yc - 4, C_ANC, 1)
    text(322, yc, name, 19, anchor="left")

for cx in (148, 729, 1203):
    text(cx, 236, "X [m]", 20)
for cx in (19, 608, 1071):
    text(cx, 105, "Y [m]", 20, -90)
for cx in (33, 508, 984):
    text(cx, 340, "Error [m]", 18, -90)
for cx in (242, 718, 1193):
    text(cx, 452, "Time [s]", 14)
for cx, s in zip((232, 712, 1187), CAPTIONS):
    text(cx, 484, s, 18)
fig.update_layout(annotations=ann, shapes=shapes)

fig.write_html("out.html", config={"displayModeBar": False},
               post_script="document.body.style.margin='0px';document.body.style.padding='0px';"
                           "document.body.style.overflow='hidden';")
